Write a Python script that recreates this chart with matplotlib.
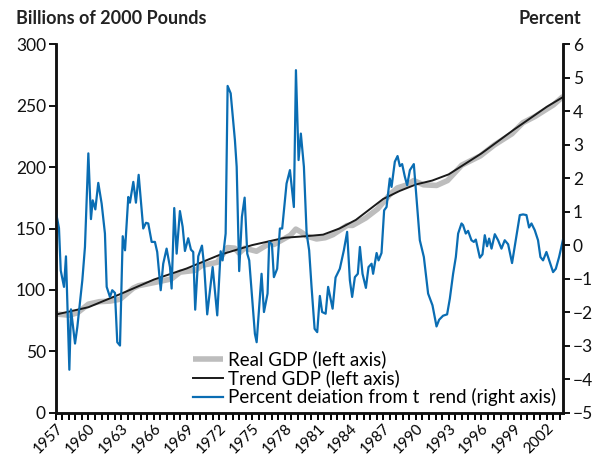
import numpy as np
import matplotlib
matplotlib.use("Agg")
import matplotlib.pyplot as plt

plt.rcParams['font.family'] = ['Lato', 'DejaVu Sans']

# percent deviation from trend (right axis)
dev_year = [1957.00, 1957.30, 1957.46, 1957.76, 1957.94, 1958.25, 1958.40, 1958.77, 1958.98, 1959.44,
            1959.68, 1959.99, 1960.23, 1960.39, 1960.63, 1960.90, 1961.21, 1961.51, 1961.67, 1961.97,
            1962.18, 1962.43, 1962.64, 1962.89, 1963.14, 1963.35, 1963.65, 1963.80, 1964.11, 1964.35,
            1964.60, 1965.02, 1965.27, 1965.48, 1965.79, 1966.09, 1966.30, 1966.62, 1966.85, 1967.16,
            1967.47, 1967.62, 1967.86, 1968.08, 1968.38, 1968.63, 1968.84, 1969.14, 1969.39, 1969.60,
            1969.78, 1970.06, 1970.40, 1970.61, 1970.88, 1971.38, 1971.80, 1972.11, 1972.29, 1972.57,
            1972.75, 1973.03, 1973.42, 1973.58, 1973.81, 1974.06, 1974.31, 1974.55, 1974.73, 1975.25,
            1975.41, 1975.86, 1976.08, 1976.41, 1976.56, 1976.81, 1976.99, 1977.29, 1977.54, 1977.75,
            1978.15, 1978.46, 1978.82, 1979.01, 1979.25, 1979.46, 1979.74, 1979.99, 1980.22, 1980.44,
            1980.72, 1980.96, 1981.20, 1981.41, 1981.73, 1981.96, 1982.37, 1982.64, 1983.03, 1983.40,
            1983.70, 1983.95, 1984.16, 1984.41, 1984.68, 1984.87, 1985.11, 1985.42, 1985.66, 1985.94,
            1986.08, 1986.40, 1986.58, 1986.85, 1987.09, 1987.31, 1987.61, 1987.77, 1988.07, 1988.32,
            1988.53, 1988.74, 1988.99, 1989.20, 1989.45, 1989.81, 1990.36, 1990.73, 1991.12, 1991.52,
            1991.89, 1992.13, 1992.49, 1992.86, 1993.11, 1993.41, 1993.66, 1993.87, 1994.18, 1994.32,
            1994.57, 1994.78, 1995.09, 1995.31, 1995.49, 1995.86, 1996.10, 1996.31, 1996.52, 1996.71,
            1996.93, 1997.23, 1997.53, 1997.84, 1998.14, 1998.45, 1998.81, 1999.15, 1999.52, 1999.82,
            2000.13, 2000.37, 2000.59, 2000.89, 2001.19, 2001.41, 2001.65, 2001.96, 2002.26, 2002.57,
            2002.82, 2003.12, 2003.48]
dev_pct = [1.02, 0.51, -0.75, -1.24, -0.33, -3.71, -1.91, -2.93, -2.44, -1.04,
           -0.05, 2.74, 0.78, 1.34, 1.07, 1.86, 1.24, 0.35, -1.24, -1.54,
           -1.34, -1.42, -2.89, -2.99, 0.27, -0.15, 1.44, 1.27, 1.89, 1.27,
           2.10, 0.50, 0.67, 0.65, 0.10, 0.10, -0.20, -1.34, -0.55, -0.10,
           -0.65, -1.29, 1.11, -0.25, 1.02, 0.55, -0.17, 0.21, -0.13, -0.20,
           -1.92, -0.33, -0.01, -0.65, -2.06, -0.65, -2.09, -0.18, -0.45, 0.35,
           4.75, 4.53, 3.13, 2.34, -0.77, 0.85, 1.42, -0.25, -0.45, -2.64,
           -2.89, -0.85, -1.99, -1.44, 0.10, 0.03, -0.95, -0.70, 0.50, 0.50,
           1.84, 2.24, 1.14, 5.22, 2.54, 3.33, 2.34, 0.35, -0.15, -1.24,
           -2.49, -2.59, -1.51, -1.99, -2.04, -1.24, -1.89, -0.96, -0.70, -0.15,
           0.40, -1.04, -1.54, -0.95, -0.85, -0.05, -0.85, -1.27, -0.65, -0.55,
           -0.85, -0.23, -0.45, -0.23, 1.04, 1.14, 1.99, 1.74, 2.49, 2.66,
           2.36, 2.42, 2.04, 1.79, 2.24, 2.42, 0.15, -0.35, -1.44, -1.79,
           -2.42, -2.22, -2.10, -2.06, -1.59, -0.85, -0.35, 0.35, 0.65, 0.60,
           0.35, 0.43, 0.15, 0.10, 0.17, -0.37, -0.27, 0.30, -0.03, 0.20,
           -0.10, 0.33, 0.15, -0.10, 0.15, 0.03, -0.53, 0.15, 0.90, 0.92,
           0.90, 0.53, 0.65, 0.45, 0.15, -0.35, -0.45, -0.20, -0.50, -0.80,
           -0.70, -0.35, 0.17]

# trend GDP (left axis)
trend_year = [1957, 1960, 1963, 1966, 1969, 1972, 1975, 1978, 1980, 1981.5, 1983,
              1984.5, 1987, 1988.5, 1990, 1991.5, 1993, 1996, 1999, 2002, 2003.5]
trend_gdp = [80, 86, 97, 108.5, 117.5, 128.5, 136.5, 142.5, 143.8, 145, 150,
             157, 174, 180.5, 185.8, 189, 194, 211, 230.5, 249, 257]

# real GDP (left axis)
real_year = [1957.0, 1958.25, 1959.0, 1960.0, 1961.0, 1962.0, 1962.9, 1964.1, 1964.6, 1966.0,
             1967.6, 1968.4, 1969.8, 1970.4, 1971.8, 1972.75, 1973.4, 1973.8, 1974.3, 1975.4,
             1976.6, 1977.0, 1978.5, 1979.0, 1979.5, 1980.0, 1980.9, 1981.7, 1982.4, 1983.7,
             1984.2, 1985.4, 1986.5, 1987.6, 1988.3, 1989.2, 1989.8, 1990.7, 1991.9, 1992.9,
             1994.2, 1995.9, 1997.2, 1998.8, 1999.8, 2000.9, 2002.6, 2003.5]
real_gdp = [80.5, 79.5, 81.5, 88.5, 90.5, 91, 92.5, 101.5, 103.5, 106,
            109, 114.5, 116, 120, 122.5, 134.5, 134, 130, 134, 131.5,
            138, 137, 144.5, 149.5, 147, 143.8, 141.5, 142.5, 145, 152.5,
            152.5, 158.5, 166, 177.5, 183, 185.5, 189, 185.5, 185, 189,
            201.5, 209, 218, 227, 236, 241, 250.5, 257.5]

year_labels = list(range(1957, 2003, 3))

fig = plt.figure(figsize=(5.99, 4.57), dpi=100)
ax = fig.add_axes([0.093, 0.0963, 0.8473, 0.8074])
ax2 = ax.twinx()

l1, = ax.plot(real_year, real_gdp, color='#bdbdbd', lw=4, solid_capstyle='butt',
              label='Real GDP (left axis)')
l2, = ax.plot(trend_year, trend_gdp, color='#1a1a1a', lw=1.4, label='Trend GDP (left axis)')
l3, = ax2.plot(dev_year, dev_pct, color='#0a6db3', lw=1.6,
               label='Percent deiation from t  rend (right axis)')

ax.set_xlim(1957, 2003.5)
ax.set_ylim(0, 300)
ax2.set_ylim(-5, 6)
ax.set_yticks(np.arange(0, 301, 50))
ax2.set_yticks(np.arange(-5, 7, 1))
ax.set_xticks(year_labels)
ax.set_xticks(np.arange(1957, 2003.6, 0.6), minor=True)
ax.set_xticklabels([str(y) for y in year_labels], rotation=45, ha='right', va='top',
                   rotation_mode='anchor', fontsize=11)

for a in (ax, ax2):
    a.spines['top'].set_visible(False)
    for s in ('left', 'right', 'bottom'):
        a.spines[s].set_linewidth(1.8)
        a.spines[s].set_color('#111111')
    a.tick_params(axis='y', labelsize=12.5, width=1.4, length=5, pad=2, colors='#111111')
ax.tick_params(axis='x', which='major', width=1.4, length=5, pad=1)
ax.tick_params(axis='x', which='minor', width=1.4, length=5)

fig.text(0.027, 0.96, 'Billions of 2000 Pounds', fontsize=13, fontweight='bold',
         ha='left', va='center', color='#222222')
fig.text(0.97, 0.96, 'Percent', fontsize=13, fontweight='bold',
         ha='right', va='center', color='#222222')

leg = ax2.legend(handles=[l1, l2, l3], loc='lower right', bbox_to_anchor=(1.008, -0.012),
                 frameon=False, fontsize=13.5, handlelength=1.6, handletextpad=0.25,
                 labelspacing=0.05, borderaxespad=0.2)

fig.savefig('out.png', dpi=100)
